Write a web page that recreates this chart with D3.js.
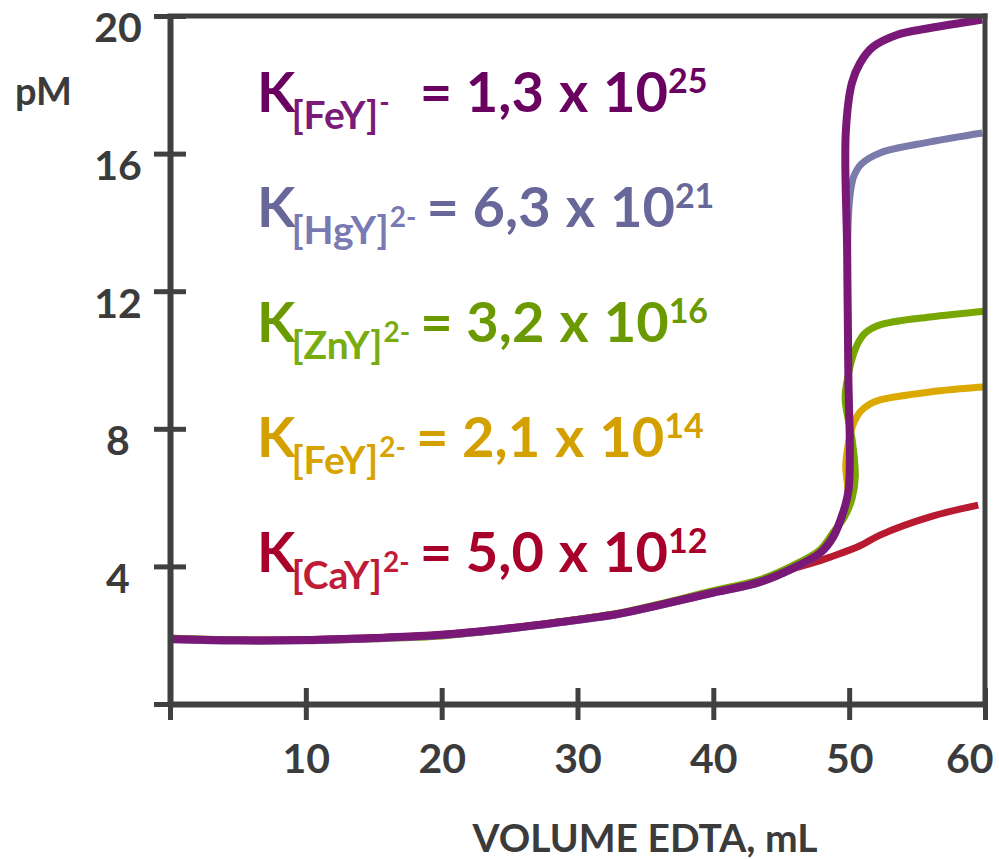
<!DOCTYPE html>
<html>
<head>
<meta charset="utf-8">
<script src="https://cdn.jsdelivr.net/npm/d3@7"></script>
<style>
  html, body { margin: 0; padding: 0; background: #fff; }
  svg { display: block; font-family: Lato, "Open Sans", sans-serif; font-weight: 700; }
</style>
</head>
<body>
<svg id="chart" width="999" height="859"></svg>
<script>
// Titration curves of 50 mL metal ion solution with EDTA: pM vs volume of titrant

// Axis ticks
const xTicks = [0, 10, 20, 30, 40, 50, 60];
const yTicks = [0, 4, 8, 12, 16, 20];

// Series (complex), in legend order top to bottom
const complexes = ["[FeY]", "[HgY]", "[ZnY]", "[FeY]", "[CaY]"];
const charges   = ["-", "2-", "2-", "2-", "2-"];
const kMantissa = ["1,3", "6,3", "3,2", "2,1", "5,0"];
const kExponent = ["25", "21", "16", "14", "12"];

// Colours: curve, label text, subscript text
const lineColors = ["#7a1877", "#7b7bab", "#77a700", "#dba900", "#b81a30"];
const textColors = ["#6a0060", "#67679a", "#6a9a00", "#d4a000", "#a8002a"];
const subColors  = ["#7c1a78", "#7a7ab2", "#78ac10", "#d6a300", "#c01c38"];

// Curve data: volume EDTA (mL) and pM
const volFeY3 = [0, 5, 10, 15, 20, 25, 28.7, 33, 36.07, 39.76, 43.44, 45.87, 47.85, 48.81, 49.54, 49.95, 50.05, 49.95, 49.85, 49.75, 50.2, 50.8, 51.75, 53.5, 55.95, 59.8];
const pMFeY3  = [1.89, 1.85, 1.86, 1.92, 2.01, 2.2, 2.38, 2.62, 2.88, 3.22, 3.55, 3.95, 4.39, 4.85, 5.55, 6.2, 7.4, 9.3, 13.2, 16.6, 18.05, 18.63, 19.1, 19.45, 19.65, 19.9];

const volHgY = [0, 5, 10, 15, 20, 25, 28.7, 33, 36.07, 39.76, 43.44, 45.87, 47.85, 48.81, 49.54, 49.95, 50.05, 49.95, 49.88, 49.95, 50.1, 50.35, 50.9, 52.27, 55.95, 59.8];
const pMHgY  = [1.87, 1.83, 1.84, 1.9, 1.99, 2.18, 2.36, 2.6, 2.86, 3.2, 3.53, 3.93, 4.37, 4.83, 5.53, 6.2, 7.4, 9.3, 13.0, 14.2, 14.9, 15.35, 15.7, 16.02, 16.34, 16.6];

const volZnY = [0, 5, 10, 15, 20, 25, 28.7, 33, 36.07, 39.76, 43.44, 45.87, 47.85, 48.81, 49.6, 50.2, 50.45, 50.25, 49.7, 49.95, 50.3, 50.65, 51.17, 52.27, 55.95, 60];
const pMZnY  = [1.92, 1.86, 1.85, 1.9, 1.98, 2.19, 2.39, 2.64, 2.91, 3.27, 3.62, 4.03, 4.48, 4.98, 5.4, 5.95, 6.6, 7.6, 8.9, 9.6, 10.15, 10.49, 10.78, 11.02, 11.25, 11.42];

const volFeY2 = [0, 5, 10, 15, 20, 25, 28.7, 33, 36.07, 39.76, 43.44, 45.87, 47.85, 48.81, 49.54, 49.9, 49.75, 49.93, 50.28, 50.8, 51.53, 52.27, 55.95, 60];
const pMFeY2  = [1.89, 1.85, 1.86, 1.92, 2.01, 2.2, 2.38, 2.62, 2.88, 3.22, 3.55, 3.95, 4.39, 4.85, 5.55, 6.1, 6.9, 7.55, 8.11, 8.49, 8.72, 8.84, 9.07, 9.22];

const volCaY = [0, 5, 10, 15, 20, 25, 28.7, 33, 36.07, 39.76, 43.44, 45.87, 47.3, 48.6, 50.8, 52.27, 55.95, 59.5];
const pMCaY  = [1.9, 1.86, 1.87, 1.93, 2.02, 2.21, 2.39, 2.63, 2.89, 3.23, 3.55, 3.93, 4.1, 4.27, 4.6, 4.91, 5.44, 5.78];

const seriesVol = [volFeY3, volHgY, volZnY, volFeY2, volCaY];
const seriesPM  = [pMFeY3, pMHgY, pMZnY, pMFeY2, pMCaY];

const axisColor = "#404040";
const labelColor = "#3b3b3b";
const fontStack = "Lato, 'Open Sans', sans-serif";

const svg = d3.select("#chart");
const x = d3.scaleLinear([0, 60], [170, 985]);
const y = d3.scaleLinear([0, 20], [704, 16]);

// Curves, drawn so the steepest (FeY-) ends up on top
const line = d3.line()
  .x(d => x(d[0]))
  .y(d => y(d[1]))
  .curve(d3.curveCatmullRom.alpha(0.5));

const drawOrder = [4, 3, 2, 1, 0];
svg.append("g")
  .selectAll("path")
  .data(drawOrder)
  .join("path")
  .attr("d", i => line(d3.zip(seriesVol[i], seriesPM[i])))
  .attr("fill", "none")
  .attr("stroke", i => lineColors[i])
  .attr("stroke-width", i => i === 0 ? 8 : 7)
  .attr("stroke-linejoin", "round");

// Frame: top and right borders
svg.append("line")
  .attr("x1", x(0)).attr("x2", x(60)).attr("y1", y(20)).attr("y2", y(20))
  .attr("stroke", axisColor).attr("stroke-width", 5).attr("stroke-linecap", "square");
svg.append("line")
  .attr("x1", x(60)).attr("x2", x(60)).attr("y1", y(20)).attr("y2", y(0))
  .attr("stroke", axisColor).attr("stroke-width", 5).attr("stroke-linecap", "square");

// Y axis
const yAxis = svg.append("g")
  .attr("transform", `translate(${x(0)},0)`)
  .call(d3.axisLeft(y).tickValues(yTicks).tickSize(16).tickSizeOuter(0)
    .tickFormat(d => d === 0 ? "" : d));
yAxis.select(".domain").attr("stroke", axisColor).attr("stroke-width", 6);
yAxis.selectAll(".tick line").attr("x1", 16).attr("stroke", axisColor).attr("stroke-width", 5);
yAxis.selectAll(".tick text")
  .attr("x", -52).attr("dy", "0.63em")
  .attr("text-anchor", "middle")
  .attr("fill", labelColor)
  .style("font-size", "41px").style("font-family", fontStack).style("font-weight", 700);

// X axis
const xAxis = svg.append("g")
  .attr("transform", `translate(0,${y(0)})`)
  .call(d3.axisBottom(x).tickValues(xTicks).tickSize(16).tickSizeOuter(0)
    .tickFormat(d => d === 0 ? "" : d));
xAxis.select(".domain").attr("stroke", axisColor).attr("stroke-width", 6);
xAxis.selectAll(".tick line").attr("y1", -16).attr("stroke", axisColor).attr("stroke-width", 5);
xAxis.selectAll(".tick text")
  .attr("y", 69).attr("dy", 0)
  .attr("fill", labelColor)
  .style("font-size", "41px").style("font-family", fontStack).style("font-weight", 700)
  .filter(d => d === 60)
  .attr("text-anchor", "end").attr("dx", 8);

yAxis.attr("font-size", null).attr("font-family", null);
xAxis.attr("font-size", null).attr("font-family", null);

// Axis titles
svg.append("text")
  .attr("x", 15).attr("y", 105)
  .attr("fill", labelColor)
  .style("font-size", "38px")
  .text("pM");

svg.append("text")
  .attr("x", 645).attr("y", 852)
  .attr("text-anchor", "middle")
  .attr("fill", labelColor)
  .style("font-size", "39px")
  .text("VOLUME EDTA, mL");

// Stability constant labels
const rowY = d3.scalePoint().domain(d3.range(5)).range([112, 572]);
const labels = svg.append("g")
  .selectAll("text")
  .data(d3.range(5))
  .join("text")
  .attr("x", 257)
  .attr("y", i => rowY(i))
  .style("font-size", "56px");

labels.each(function (i) {
  const t = d3.select(this);
  t.append("tspan").attr("fill", textColors[i]).text("K");
  t.append("tspan").attr("fill", subColors[i]).attr("dy", 17).attr("dx", -4)
    .style("font-size", "39px").text(complexes[i]);
  t.append("tspan").attr("fill", subColors[i]).attr("dy", -17)
    .attr("dx", 1)
    .style("font-size", "28px").text(charges[i]);
  t.append("tspan").attr("fill", textColors[i])
    .attr("dx", i === 0 ? 30 : 10)
    .text(`= ${kMantissa[i]}`);
  t.append("tspan").attr("fill", textColors[i]).attr("dx", 15).text("x");
  t.append("tspan").attr("fill", textColors[i]).attr("dx", 15).text("10");
  t.append("tspan").attr("fill", textColors[i]).attr("dy", -19)
    .style("font-size", "34px").text(kExponent[i]);
});
</script>
</body>
</html>
